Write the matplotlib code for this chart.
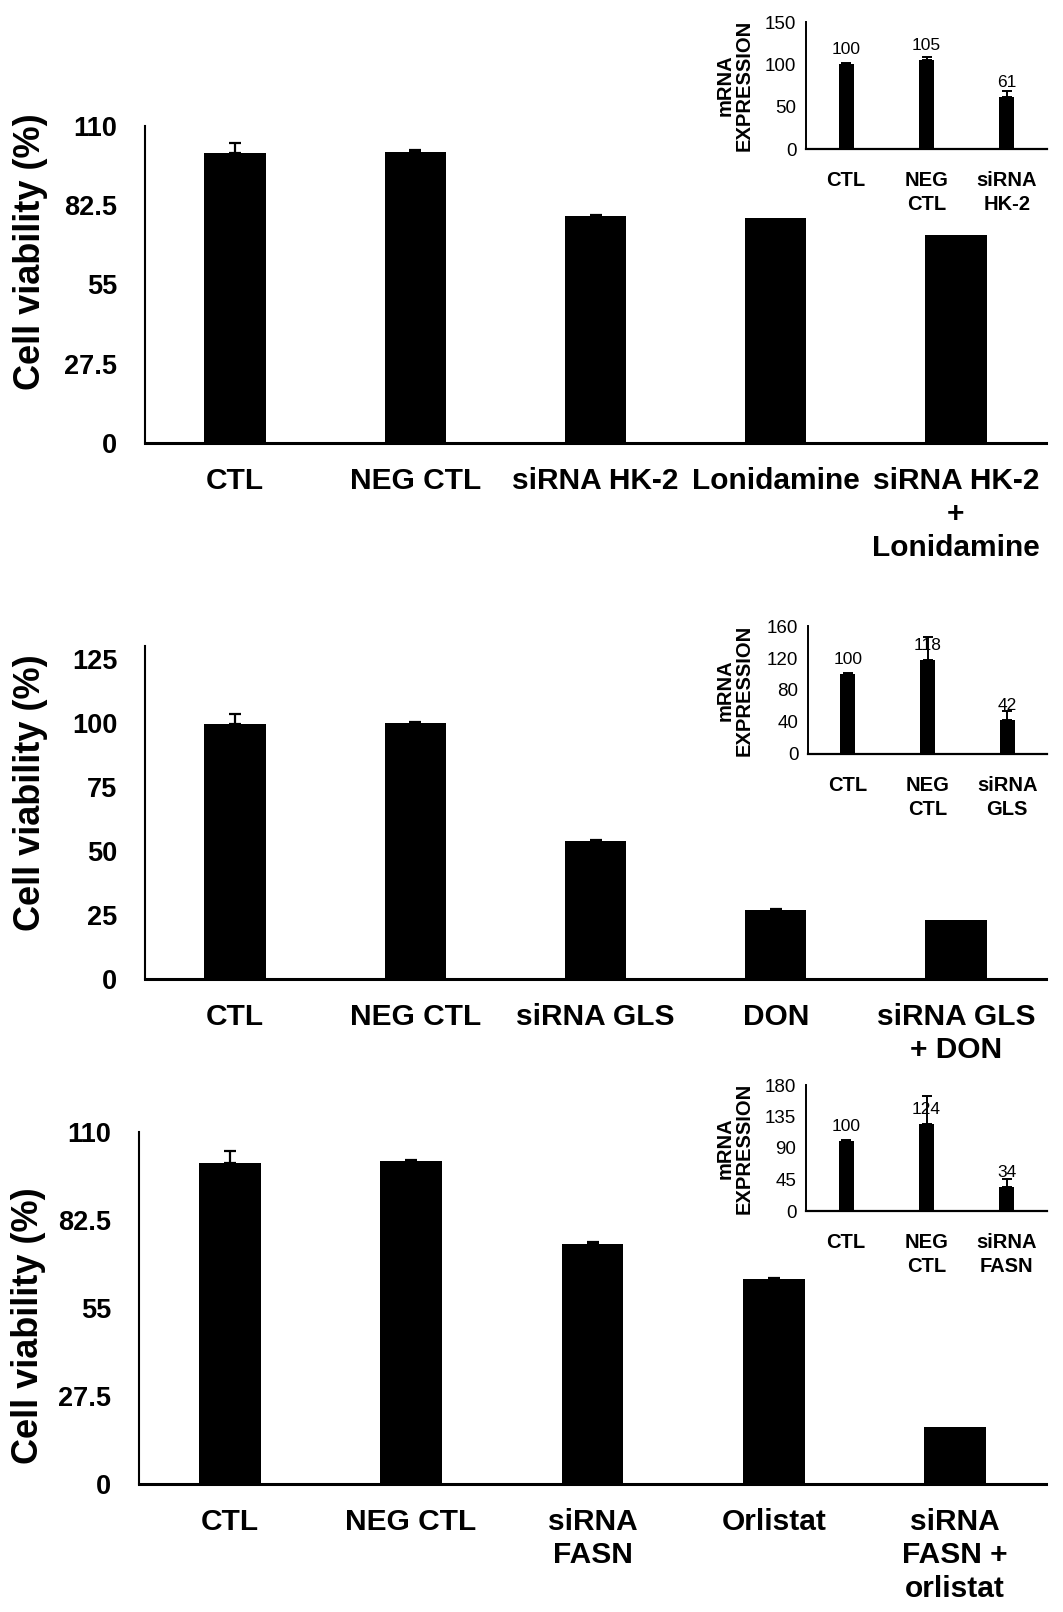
import matplotlib
matplotlib.use('Agg')
import matplotlib.pyplot as plt

plt.rcParams['font.family'] = ['Liberation Sans', 'DejaVu Sans']

W, H = 1063, 1612

# --- main panels ---
p1_labels = ['CTL', 'NEG CTL', 'siRNA HK-2', 'Lonidamine', 'siRNA HK-2\n+\nLonidamine']
p1_vals = [100.5, 101, 78.6, 78, 72.3]
p1_err = [3.5, 0.5, 0.5, 0, 0]
p1_ticks = [0, 27.5, 55, 82.5, 110]

p2_labels = ['CTL', 'NEG CTL', 'siRNA GLS', 'DON', 'siRNA GLS\n+ DON']
p2_vals = [99.6, 100, 53.7, 26.9, 23.2]
p2_err = [4, 0.5, 0.5, 0.5, 0]
p2_ticks = [0, 25, 50, 75, 100, 125]

p3_labels = ['CTL', 'NEG CTL', 'siRNA\nFASN', 'Orlistat', 'siRNA\nFASN +\norlistat']
p3_vals = [100.2, 100.8, 75, 64, 17.9]
p3_err = [3.8, 0.5, 0.5, 0.5, 0]
p3_ticks = [0, 27.5, 55, 82.5, 110]

# --- insets (mRNA expression) ---
in1_labels = ['CTL', 'NEG\nCTL', 'siRNA\nHK-2']
in1_vals = [100, 105, 61]
in1_err = [1, 4, 7]
in1_ticks = [0, 50, 100, 150]

in2_labels = ['CTL', 'NEG\nCTL', 'siRNA\nGLS']
in2_vals = [100, 118, 42]
in2_err = [1, 28, 12]
in2_ticks = [0, 40, 80, 120, 160]

in3_labels = ['CTL', 'NEG\nCTL', 'siRNA\nFASN']
in3_vals = [100, 124, 34]
in3_err = [1, 40, 12]
in3_ticks = [0, 45, 90, 135, 180]


def box(left, top, right, bottom):
    # pixel box -> figure fraction rect
    return [left / W, 1 - bottom / H, (right - left) / W, (bottom - top) / H]


def up_errors(ax, vals, errs, capsize, lw):
    # upper error bars only, skip the ones with no error
    pts = [(i, v, e) for i, (v, e) in enumerate(zip(vals, errs)) if e > 0]
    if not pts:
        return
    xs, ys, es = zip(*pts)
    ax.errorbar(xs, ys, yerr=[[0] * len(es), list(es)], fmt='none', ecolor='black',
                elinewidth=lw, capthick=lw, capsize=capsize, zorder=1)


def main_panel(fig, rect, labels, vals, errs, ticks, ytop, ylab_xy):
    ax = fig.add_axes(rect)
    x = range(len(vals))
    up_errors(ax, vals, errs, 4.5, 1.6)
    ax.bar(x, vals, width=0.34, color='black', zorder=2)
    ax.set_xlim(-0.5, 4.5)
    ax.set_ylim(0, ytop)
    ax.set_yticks(ticks)
    ax.set_yticklabels([f'{t:g}' for t in ticks], fontsize=19.5, fontweight='bold')
    ax.set_xticks(list(x))
    ax.set_xticklabels(labels, fontsize=21.5, fontweight='bold', linespacing=1.25)
    ax.tick_params(axis='x', length=0, pad=17)
    ax.tick_params(axis='y', length=0, pad=20)
    for s in ['top', 'right']:
        ax.spines[s].set_visible(False)
    ax.spines['left'].set_linewidth(1.5)
    ax.spines['bottom'].set_linewidth(2.2)
    fig.text(ylab_xy[0] / W, 1 - ylab_xy[1] / H, 'Cell viability (%)',
             rotation=90, ha='center', va='center', fontsize=26, fontweight='bold')
    return ax


def inset(fig, rect, labels, vals, errs, ticks, lab_x):
    ax = fig.add_axes(rect)
    x = range(len(vals))
    up_errors(ax, vals, errs, 3.5, 1.4)
    ax.bar(x, vals, width=0.19, color='black', zorder=2)
    for xi, v in zip(x, vals):
        ax.annotate(f'{v:g}', (xi, v), xytext=(0, 5), textcoords='offset points',
                    ha='center', va='bottom', fontsize=12.5, zorder=3)
    ax.set_xlim(-0.5, 2.5)
    ax.set_ylim(0, ticks[-1])
    ax.set_yticks(ticks)
    ax.set_yticklabels([str(t) for t in ticks], fontsize=13.5)
    ax.set_xticks(list(x))
    ax.set_xticklabels(labels, fontsize=14.5, fontweight='bold', linespacing=1.3)
    ax.tick_params(axis='x', length=0, pad=16)
    ax.tick_params(axis='y', length=0, pad=7)
    for s in ['top', 'right']:
        ax.spines[s].set_visible(False)
    ax.spines['left'].set_linewidth(1.4)
    ax.spines['bottom'].set_linewidth(1.6)
    ymid = (rect[1] + rect[3] / 2)
    fig.text(lab_x / W, ymid, 'mRNA\nEXPRESSION', rotation=90, ha='center',
             va='center', fontsize=14.5, fontweight='bold', linespacing=1.0)
    return ax


fig = plt.figure(figsize=(W / 100, H / 100), dpi=100)

main_panel(fig, box(145, 126, 1046, 443), p1_labels, p1_vals, p1_err, p1_ticks, 110, (31, 252))
main_panel(fig, box(145, 646, 1046, 979), p2_labels, p2_vals, p2_err, p2_ticks, 130, (31, 793))
main_panel(fig, box(139, 1132, 1046, 1484), p3_labels, p3_vals, p3_err, p3_ticks, 110, (29, 1326))

inset(fig, box(806, 22, 1047, 149), in1_labels, in1_vals, in1_err, in1_ticks, 735)
inset(fig, box(808, 626, 1047, 754), in2_labels, in2_vals, in2_err, in2_ticks, 735)
inset(fig, box(806, 1085, 1047, 1211), in3_labels, in3_vals, in3_err, in3_ticks, 735)

fig.savefig('out.png', dpi=100, facecolor='white')
